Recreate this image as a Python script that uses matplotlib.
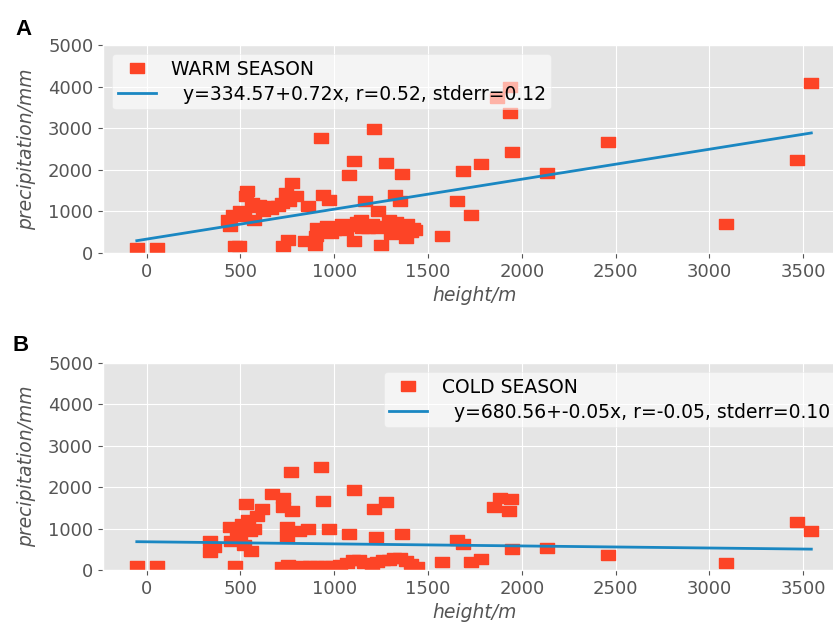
import matplotlib
matplotlib.use("Agg")
import matplotlib.pyplot as plt

# panel A, warm season
warm_height = [-53, 53, 435, 460, 445, 473, 490, 500, 520, 530, 535, 560, 572, 580,
               600, 620, 642, 660, 698, 720, 740, 777, 797, 760, 727, 755, 862, 845,
               896, 930, 938, 972, 910, 940, 980, 1010, 1040, 1060, 1079, 1107, 1107,
               1120, 1140, 1163, 1180, 1200, 1214, 1234, 1248, 1260, 1276, 1290, 1310,
               1324, 1352, 1361, 1340, 1370, 1390, 1410, 1430, 1380, 900, 960, 1000,
               1090, 1150, 1230, 1300, 1330, 1420, 1572, 1656, 1685, 1730, 1780, 1868,
               1938, 1938, 1946, 2135, 2462, 3090, 3468, 3544]
warm_precip = [120, 120, 800, 920, 640, 176, 170, 1000, 900, 1360, 1480, 1200, 800, 1100,
               1150, 1000, 1120, 1050, 1120, 1200, 1440, 1680, 1360, 1250, 160, 320, 1120, 280,
               200, 2770, 1400, 1280, 600, 500, 480, 600, 700, 550, 1870, 2220, 280,
               750, 800, 1240, 600, 700, 2990, 1000, 200, 650, 2170, 800, 700,
               1400, 1240, 1900, 550, 650, 700, 500, 550, 350, 400, 650, 550,
               650, 600, 600, 450, 750, 600, 400, 1240, 1960, 920, 2140, 3730,
               3370, 4000, 2430, 1920, 2660, 705, 2240, 4090]

# panel B, cold season
cold_height = [-53, 53, 338, 338, 360, 445, 450, 473, 480, 500, 510, 520, 530, 540, 550,
               558, 570, 590, 614, 670, 727, 727, 746, 746, 769, 777, 755, 720, 811, 862,
               930, 938, 972, 1079, 1107, 1214, 1222, 1276, 1361,
               830, 870, 910, 950, 990, 1030, 1070, 1100, 1130, 1160, 1200, 1230, 1260,
               1290, 1320, 1350, 1380, 1410, 1440,
               1572, 1656, 1685, 1730, 1780, 1854, 1882, 1944, 1932, 1946, 2135, 2462,
               3090, 3468, 3544]
cold_precip = [90, 90, 710, 430, 560, 1030, 700, 100, 900, 800, 1100, 600, 1590, 1200, 950,
               470, 1000, 1300, 1470, 1835, 1750, 1510, 1030, 790, 2360, 1430, 130, 80, 950, 990,
               2480, 1670, 990, 870, 1920, 1470, 790, 1630, 870,
               100, 100, 100, 100, 100, 120, 180, 250, 230, 180, 120, 200, 250,
               250, 300, 280, 220, 150, 80,
               190, 725, 630, 190, 270, 1510, 1750, 1710, 1430, 510, 530, 370,
               170, 1150, 950]

# regression results as printed in the legends
warm_fit = (334.57, 0.72, 0.52, 0.12)
cold_fit = (680.56, -0.05, -0.05, 0.10)

RED = "#fd4426"
BLUE = "#1a87c2"
rect = [(-1.3, -1), (1.3, -1), (1.3, 1), (-1.3, 1), (-1.3, -1)]

plt.style.use("ggplot")
fig = plt.figure(figsize=(8.33, 6.28), dpi=100)


def draw_panel(ax, xs, ys, fit, name, loc):
    a, b, r, se = fit
    ax.plot(xs, ys, ls="none", marker=rect, ms=10, color=RED, label=name)
    x0, x1 = min(xs), max(xs)
    ax.plot([x0, x1], [a + b * x0, a + b * x1], color=BLUE, lw=2,
            label=f"  y={a:.2f}+{b:.2f}x, r={r:.2f}, stderr={se:.2f}")
    ax.set_xlim(-233, 3724)
    ax.set_ylim(0, 5000)
    ax.set_xticks(range(0, 4000, 500))
    ax.set_yticks(range(0, 6000, 1000))
    ax.tick_params(labelsize=13, colors="#555555")
    ax.set_xlabel("height/m", fontsize=13.5, style="italic", color="#555555")
    ax.set_ylabel("precipitation/mm", fontsize=13.5, style="italic", color="#555555",
                  labelpad=9)
    leg = ax.legend(loc=loc, fontsize=13.5, facecolor="white", framealpha=0.6,
                    edgecolor="0.9", labelspacing=0.3, borderpad=0.3)
    for t in leg.get_texts():
        t.set_color("black")


ax1 = fig.add_axes([0.1237, 0.5971, 0.8908, 0.3312])
draw_panel(ax1, warm_height, warm_precip, warm_fit, "WARM SEASON", "upper left")
ax2 = fig.add_axes([0.1237, 0.0924, 0.8908, 0.3296])
draw_panel(ax2, cold_height, cold_precip, cold_fit, "COLD SEASON", "upper right")

fig.text(15 / 833, 1 - 35 / 628, "A", fontsize=16, fontweight="bold",
         family="Liberation Sans", color="black")
fig.text(12 / 833, 1 - 351 / 628, "B", fontsize=16, fontweight="bold",
         family="Liberation Sans", color="black")

fig.savefig("out.png", dpi=100)
